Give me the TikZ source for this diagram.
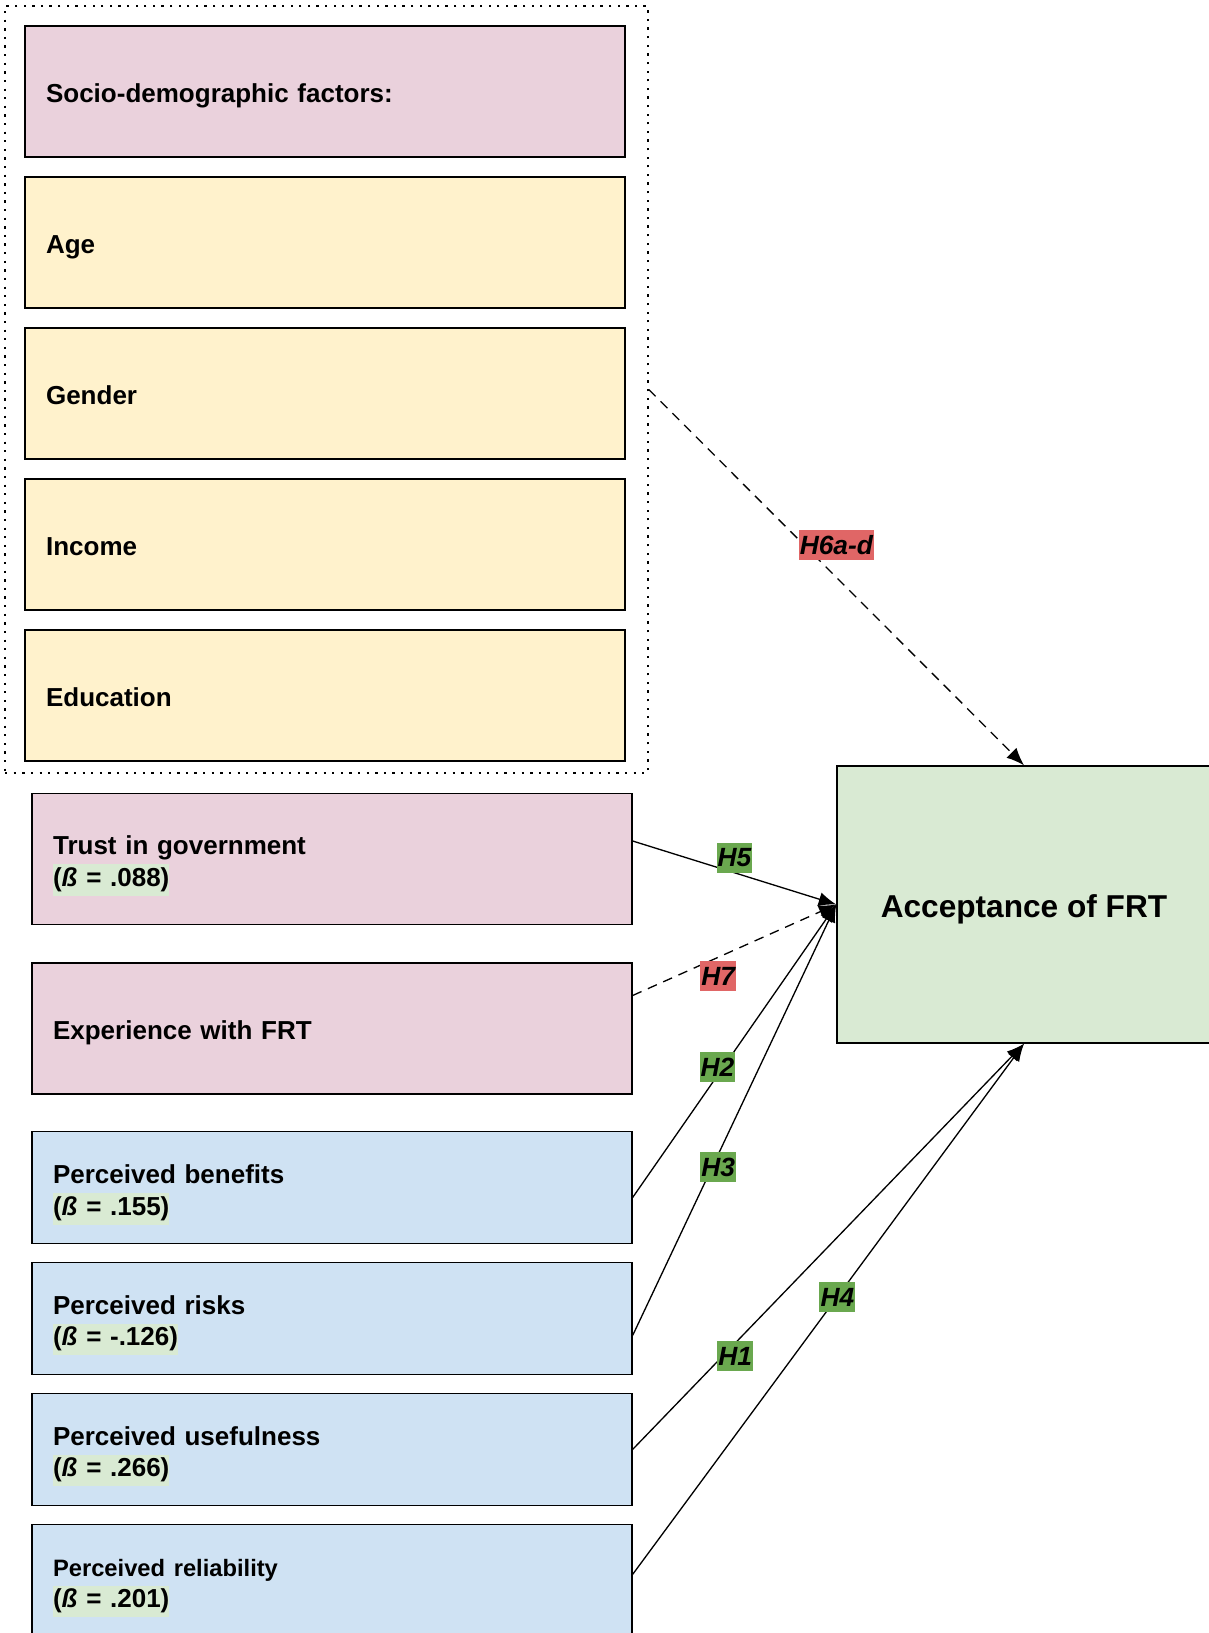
\documentclass[tikz,border=0pt]{standalone}
\usepackage{fontspec}
\setmainfont{Liberation Sans}
\usepackage{xcolor}
\usetikzlibrary{shapes, arrows.meta, positioning, calc}

\definecolor{pinkbox}{HTML}{EAD1DC}
\definecolor{yellowbox}{HTML}{FFF2CC}
\definecolor{bluebox}{HTML}{CFE2F3}
\definecolor{greenbox}{HTML}{D9EAD3}
\definecolor{hypred}{HTML}{E06666}
\definecolor{hypgreen}{HTML}{6AA84F}

\newcommand{\betaval}[1]{{\setlength{\fboxsep}{0pt}\colorbox{greenbox}{\strut(\textit{ß} = #1)}}}

\tikzset{
  factor/.style={draw, line width=0.85pt, rectangle, minimum height=2.62cm,
    text width=11.16cm, inner xsep=0.42cm, align=left,
    font=\fontsize{14.8}{18}\selectfont\bfseries,
    execute at begin node={\rule[-3.1pt]{0pt}{18.7pt}}},
  twoline/.style={execute at begin node={\rule{0pt}{18.8pt}}},
  percept/.style={factor, twoline, fill=bluebox, minimum height=2.24cm},
  hyp/.style={font=\fontsize{15}{15}\selectfont\bfseries\itshape, inner xsep=0.6pt,
    inner ysep=3pt, text height=10.8pt, text depth=0.3pt},
  path/.style={line width=0.75pt, -{Latex[length=10pt, width=8pt]}},
  weak/.style={path, dash pattern=on 5.5pt off 4pt}
}

\begin{document}
\begin{tikzpicture}[x=0.02cm, y=-0.02cm]
\useasboundingbox (0,0) rectangle (1209,1633);

% Socio-demographic block
\node[factor, fill=pinkbox] (socio) at (325,91.5) {Socio-demographic factors:};
\node[factor, fill=yellowbox, below=0.37cm of socio] (age) {Age};
\node[factor, fill=yellowbox, below=0.37cm of age] (gender) {Gender};
\node[factor, fill=yellowbox, below=0.37cm of gender] (income) {Income};
\node[factor, fill=yellowbox, below=0.37cm of income] (edu) {Education};
\node[draw, line width=1pt, dash pattern=on 1.3pt off 3.6pt, minimum width=12.86cm,
  minimum height=15.34cm] (demo) at (326.5,389.5) {};

% Predictors
\node[factor, twoline, fill=pinkbox] (trust) at (332,859) {Trust in government\\\betaval{.088}};
\node[factor, fill=pinkbox, below=0.74cm of trust] (exper) {Experience with FRT};
\node[percept, below=0.72cm of exper] (benef) {Perceived benefits\\\betaval{.155}};
\node[percept, below=0.35cm of benef] (risks) {Perceived risks\\\betaval{-.126}};
\node[percept, below=0.35cm of risks] (useful) {Perceived usefulness\\\betaval{.266}};
\node[percept, below=0.35cm of useful] (reliab) {{\fontsize{13.5}{18}\selectfont Perceived reliability}\\\betaval{.201}};

% Outcome
\node[draw, line width=0.85pt, fill=greenbox, minimum width=7.48cm, minimum height=5.54cm,
  text height=18.7pt, text depth=3.8pt,
  font=\fontsize{18}{22}\selectfont\bfseries] (accept) at (1024,904.5) {Acceptance of FRT};

% Hypotheses
\draw[weak] (demo.east) -- (accept.north)
  node[hyp, fill=hypred, pos=0.5, yshift=0.65cm] {H6a-d};
\draw[path] ([yshift=0.36cm]trust.east) -- (accept.west)
  node[hyp, fill=hypgreen, pos=0.5, yshift=0.3cm] {H5};
\draw[weak] ([yshift=0.66cm]exper.east) -- (accept.west)
  node[hyp, fill=hypred, pos=0.42, yshift=-0.38cm] {H7};
\draw[path] ([yshift=-0.2cm]benef.east) -- (accept.west)
  node[hyp, fill=hypgreen, pos=0.446, xshift=-0.12cm] {H2};
\draw[path] ([yshift=-0.34cm]risks.east) -- (accept.west)
  node[hyp, fill=hypgreen, pos=0.39, xshift=0.12cm] {H3};
\draw[path] (useful.east) -- (accept.south)
  node[hyp, fill=hypgreen, pos=0.23, xshift=0.25cm] {H1};
\draw[path] ([yshift=0.12cm]reliab.east) -- (accept.south)
  node[hyp, fill=hypgreen, pos=0.523] {H4};
\end{tikzpicture}
\end{document}
